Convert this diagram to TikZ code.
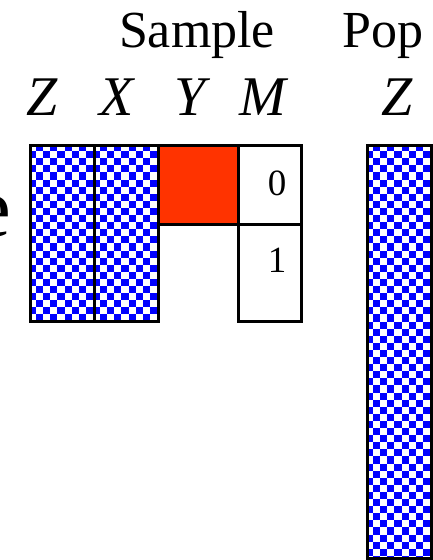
\documentclass[tikz,border=0pt]{standalone}
\usepackage{fontspec}
\setmainfont{Liberation Serif}
\definecolor{redfill}{RGB}{255,51,0}
\definecolor{checkblue}{RGB}{0,0,255}
\newcommand\checkcol[4]{%
  \begin{scope}
    \clip (#1,#2) rectangle (#3,#4);
    \fill[white] (#1,#2) rectangle (#3,#4);
    \foreach \i in {0,...,9}{
      \foreach \j in {0,...,30}{
        \fill[checkblue] ({#1+(2*\i+1)*7.1},{#2+2*\j*7.1}) rectangle ++(7.1,7.1);
        \fill[checkblue] ({#1+2*\i*7.1},{#2+(2*\j+1)*7.1}) rectangle ++(7.1,7.1);
      }
    }
  \end{scope}}
\tikzset{
  colbox/.style={draw=black, line width=2.5pt, rectangle, inner sep=0pt, anchor=north west},
  headfont/.style={font=\fontsize{52}{60}\selectfont, anchor=base, inner sep=0pt},
  varfont/.style={font=\fontsize{56}{64}\selectfont\itshape, anchor=base, inner sep=0pt},
  digitfont/.style={font=\fontsize{37}{44}\selectfont, anchor=base, inner sep=0pt},
}
\begin{document}
\begin{tikzpicture}[x=1pt, y=-1pt]
  \useasboundingbox (0,0) rectangle (433,560);
  % fills
  \checkcol{29}{144}{93}{320}
  \checkcol{93}{144}{157}{320}
  \checkcol{366}{144}{430}{557}
  \fill[redfill] (157,144) rectangle (237,223);
  % boxes
  \node[colbox, minimum width=64pt, minimum height=176pt] (zcol) at (29,144) {};
  \node[colbox, minimum width=64pt, minimum height=176pt] (xcol) at (93,144) {};
  \node[colbox, minimum width=80pt, minimum height=79pt] (ycol) at (157,144) {};
  \node[colbox, minimum width=63pt, minimum height=79pt] (m0box) at (237,144) {};
  \node[colbox, minimum width=63pt, minimum height=97pt] (m1box) at (237,223) {};
  \node[colbox, minimum width=64pt, minimum height=413pt] (popcol) at (366,144) {};
  % labels
  \node[headfont] (sample) at (197,47) {Sample};
  \node[headfont] (pop) at (383,47) {Pop};
  \node[varfont] (zlab) at (42,115) {Z};
  \node[varfont] (xlab) at (117,115) {X};
  \node[varfont] (ylab) at (190,115) {Y};
  \node[varfont] (mlab) at (263,115) {M};
  \node[varfont] (pzlab) at (397,115) {Z};
  \node[digitfont] (d0) at (277,195) {0};
  \node[digitfont] (d1) at (277,272) {1};
  \node[font=\fontsize{85}{90}\selectfont, anchor=base east, inner sep=0pt] (eglyph) at (11,236) {e};
\end{tikzpicture}
\end{document}
